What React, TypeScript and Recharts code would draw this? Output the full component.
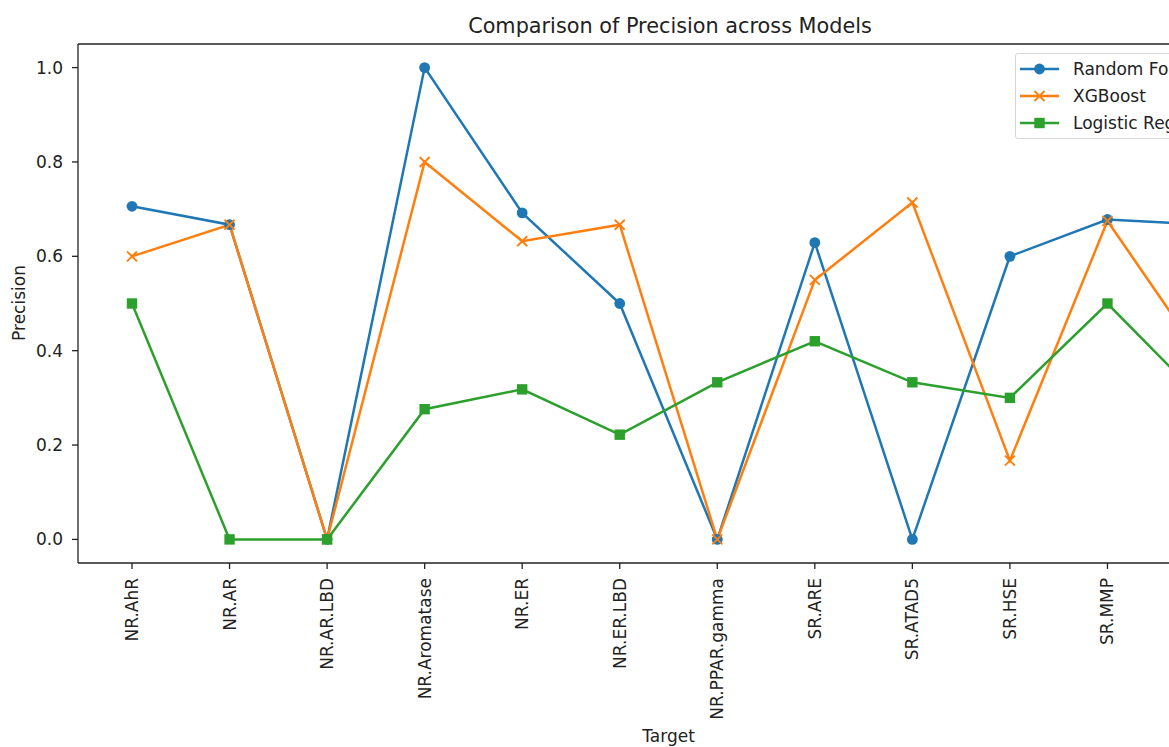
import { Legend, Line, LineChart, ReferenceLine, XAxis, YAxis } from 'recharts';

const CATEGORIES = [
  'NR.AhR',
  'NR.AR',
  'NR.AR.LBD',
  'NR.Aromatase',
  'NR.ER',
  'NR.ER.LBD',
  'NR.PPAR.gamma',
  'SR.ARE',
  'SR.ATAD5',
  'SR.HSE',
  'SR.MMP',
  'SR.p53',
];
const RANDOM_FOREST = [0.706, 0.667, 0, 1.0, 0.692, 0.5, 0, 0.629, 0, 0.6, 0.678, 0.667];
const XGBOOST = [0.6, 0.667, 0, 0.8, 0.632, 0.667, 0, 0.55, 0.714, 0.167, 0.675, 0.375];
const LOGISTIC = [0.5, 0, 0, 0.276, 0.318, 0.222, 0.333, 0.42, 0.333, 0.3, 0.5, 0.29];
const Y_TICKS = [0, 0.2, 0.4, 0.6, 0.8, 1.0];

const SERIES = [
  { key: 'rf', name: 'Random Forest', color: '#1f77b4', marker: 'circle' },
  { key: 'xgb', name: 'XGBoost', color: '#ff7f0e', marker: 'x' },
  { key: 'lr', name: 'Logistic Regression', color: '#2ca02c', marker: 'square' },
];

const data = CATEGORIES.map((name, i) => ({
  name,
  rf: RANDOM_FOREST[i],
  xgb: XGBOOST[i],
  lr: LOGISTIC[i],
}));

const FONT = '"DejaVu Sans", sans-serif';
const INK = '#222';

const Marker = ({ cx, cy, kind, color }: { cx: number; cy: number; kind: string; color: string }) => {
  if (cx == null || cy == null) return null;
  if (kind === 'circle') return <circle cx={cx} cy={cy} r={5.4} fill={color} />;
  if (kind === 'square') return <rect x={cx - 5.2} y={cy - 5.2} width={10.4} height={10.4} fill={color} />;
  return (
    <g stroke={color} strokeWidth={1.9}>
      <line x1={cx - 5} y1={cy - 5} x2={cx + 5} y2={cy + 5} />
      <line x1={cx - 5} y1={cy + 5} x2={cx + 5} y2={cy - 5} />
    </g>
  );
};

const XTick = ({ x, y, payload }: any) => (
  <text
    x={x}
    y={y + 7}
    transform={`rotate(-90 ${x} ${y + 7})`}
    textAnchor="end"
    dominantBaseline="central"
    fontSize={17}
    fontFamily={FONT}
    fill={INK}
  >
    {payload.value}
  </text>
);

const LegendBox = () => (
  <div
    style={{
      border: '1px solid #d6d6d6',
      borderRadius: 3,
      background: 'rgba(255,255,255,0.8)',
      padding: '1px 8px 2px 4px',
      fontFamily: FONT,
      fontSize: 17,
      color: INK,
    }}
  >
    {SERIES.map((s) => (
      <div key={s.key} style={{ display: 'flex', alignItems: 'center', height: 27 }}>
        <svg width={39} height={14} style={{ flexShrink: 0 }}>
          <line x1={0} y1={7} x2={39} y2={7} stroke={s.color} strokeWidth={2.5} />
          <Marker cx={19.5} cy={7} kind={s.marker} color={s.color} />
        </svg>
        <span style={{ marginLeft: 14, whiteSpace: 'nowrap' }}>{s.name}</span>
      </div>
    ))}
  </div>
);

export default function App() {
  return (
    <div
      style={{
        position: 'absolute',
        left: 0,
        top: 0,
        width: 1169,
        height: 747,
        overflow: 'hidden',
        background: '#fff',
        fontFamily: FONT,
        color: INK,
      }}
    >
      <LineChart width={1300} height={747} data={data} margin={{ top: 44, right: 41, bottom: 0, left: 8 }}>
        <XAxis
          dataKey="name"
          type="category"
          padding={{ left: 54, right: 54 }}
          height={184}
          interval={0}
          tick={<XTick />}
          tickSize={6}
          axisLine={{ stroke: INK, strokeWidth: 1.3 }}
          tickLine={{ stroke: INK, strokeWidth: 1.3 }}
        />
        <YAxis
          domain={[-0.05, 1.05]}
          ticks={Y_TICKS}
          width={70}
          tickSize={6}
          tickMargin={9}
          tickFormatter={(v: number) => v.toFixed(1)}
          tick={{ fontSize: 17, fontFamily: FONT, fill: INK }}
          axisLine={{ stroke: INK, strokeWidth: 1.3 }}
          tickLine={{ stroke: INK, strokeWidth: 1.3 }}
        />
        <ReferenceLine y={1.05} stroke={INK} strokeWidth={1.3} />
        <Legend
          layout="vertical"
          verticalAlign="middle"
          align="center"
          content={<LegendBox />}
          wrapperStyle={{ position: 'absolute', left: 1015, top: 53, width: 'auto' }}
        />
        {SERIES.map((s) => (
          <Line
            key={s.key}
            dataKey={s.key}
            name={s.name}
            stroke={s.color}
            strokeWidth={2.5}
            isAnimationActive={false}
            dot={(p: any) => <Marker key={`${s.key}-${p.index}`} cx={p.cx} cy={p.cy} kind={s.marker} color={s.color} />}
            activeDot={false}
          />
        ))}
      </LineChart>
      <div
        style={{
          position: 'absolute',
          left: 0,
          width: 1340,
          top: 14,
          textAlign: 'center',
          fontSize: 20.8,
        }}
      >
        Comparison of Precision across Models
      </div>
      <div
        style={{
          position: 'absolute',
          left: 0,
          width: 1337,
          top: 726,
          textAlign: 'center',
          fontSize: 17,
        }}
      >
        Target
      </div>
      <div
        style={{
          position: 'absolute',
          left: 19,
          top: 303,
          fontSize: 17,
          transform: 'translate(-50%, -50%) rotate(-90deg)',
          whiteSpace: 'nowrap',
        }}
      >
        Precision
      </div>
    </div>
  );
}
